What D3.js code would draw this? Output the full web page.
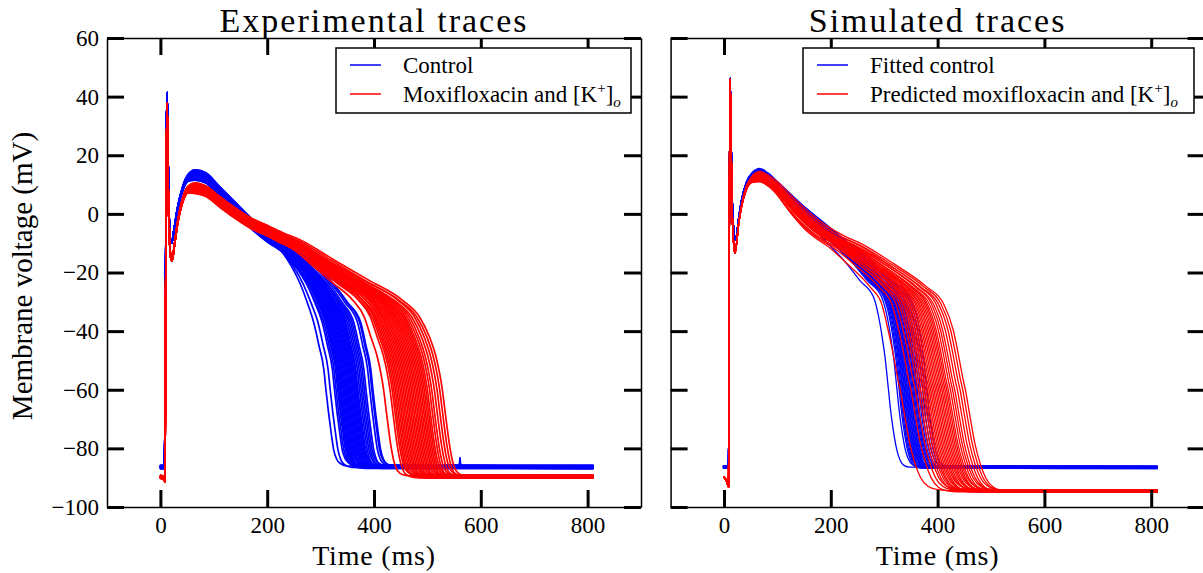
<!DOCTYPE html>
<html>
<head>
<meta charset="utf-8">
<script src="https://cdn.jsdelivr.net/npm/d3@7"></script>
<style>
    body { margin: 0; background: #fff; }
    svg text { font-family: "Liberation Serif", serif; fill: #000; }
</style>
</head>
<body>
<div id="chart_div"></div>
<script>
// Template shapes: [time ms, voltage mV].
// upstroke is kept as is, late plateau is stretched, drop is shifted so the trace crosses -60 mV at its own time.

// Experimental control (shortest trace, crosses -60 mV at 310 ms)
const expControlUpstroke = [[-1, -86.4], [8, -86.4], [9.5, -40], [11, 20], [12.5, 41.5], [14, 22], [16.5, -2], [19, -9.5], [21, -10]];
const expControlPlateau = [[25, -6], [32, 2], [42, 9.5], [52, 13.5], [65, 15], [85, 14], [110, 9.5], [140, 4], [170, -1.5], [200, -6], [224, -11], [245, -17], [262, -23.5], [275, -30], [287, -37]];
const expControlDrop = [[297, -45], [306, -53], [310, -60], [315, -68], [320, -75], [324.5, -80.5], [330, -83.8], [337, -85.4], [350, -86.3], [811, -86.4]];
const expControlRef = 310;
const expControlRest = -86.4;
// [-60 mV crossing, plateau offset, rest offset]
const expControlTraces = [
    [310, -1.5, 0.3], [318, -2, -0.2], [326, -0.5, 0.5], [329, -3, 0], [332, -1, -0.4], [334, -2.5, 0.2],
    [336, 0, 0.6], [338, -3.5, -0.3], [340, -1.5, 0.1], [342, -2, -0.5], [344, -0.5, 0.4], [346, -3, 0],
    [348, -1, 0.3], [350, -2.5, -0.2], [352, 0, 0.5], [354, -1.5, -0.4], [356, -3.5, 0.2], [358, -2, 0],
    [360, -0.5, 0.4], [362, -1, -0.3], [364, -3, 0.1], [366, -2, 0.5], [368, -1.5, -0.2], [370, -0.5, 0.3],
    [373, -2.5, -0.5], [376, -1, 0.2], [379, -3, 0], [382, -2, 0.4], [385, -0.5, -0.3], [392, -1.5, 0.1],
    [396, -1, 0.3], [398, -2, -0.1]
];
const expControlArtifact = [[559, -86.4], [561, -83], [563, -86.4]];

// Experimental moxifloxacin + K (longest trace, crosses -60 mV at 523 ms)
const expDrugUpstroke = [[-1, -89.7], [7, -90.3], [8.5, -91], [9.5, -50], [11, 10], [12.5, 37.8], [14, 15], [17, -8], [20, -15.5], [22, -16]];
const expDrugPlateau = [[26, -11], [33, -2], [42, 5.5], [52, 9.5], [65, 10.5], [85, 9.5], [110, 6], [140, 2], [170, -1.5], [200, -4], [230, -6.5], [262, -9], [324, -15.8], [387, -22.6], [449, -29.4], [480, -35], [499, -42]];
const expDrugDrop = [[510, -48], [518, -54.5], [523, -60], [527, -65.8], [532, -73], [537, -79.5], [543, -85], [549, -87.8], [560, -89.3], [575, -89.7], [811, -89.7]];
const expDrugRef = 523;
const expDrugRest = -89.7;
const expDrugTraces = [
    [418, -2, 0.3], [430, -1, -0.3], [434, -3, 0.5], [437, -0.5, 0], [440, -2, -0.4], [443, -3.5, 0.2],
    [446, -1, 0.6], [449, -2.5, -0.2], [452, 0, 0.3], [455, -1.5, -0.5], [458, -3, 0.1], [461, -2, 0.4],
    [464, -0.5, -0.3], [467, -3.5, 0], [470, -1, 0.5], [473, -2.5, -0.2], [476, -1.5, 0.3], [479, 0, -0.4],
    [482, -3, 0.2], [485, -2, 0.6], [488, -1, -0.1], [491, -2.5, 0.3], [494, -0.5, -0.5], [497, -3, 0.1],
    [500, -1.5, 0.4], [504, -2, -0.2], [508, -1, 0.2], [513, -3, 0], [518, -0.5, 0.4], [523, -2, -0.3], [528, 0, 0.1]
];

// Simulated control (shortest trace, crosses -60 mV at 308 ms)
const simControlUpstroke = [[-2, -86.4], [8.5, -86.4], [9.5, -40], [10.5, 20], [11.5, 46.3], [13, 30], [15.5, 5], [18.5, -6], [20.5, -9], [23, -8]];
const simControlPlateau = [[27, -2], [33, 5], [42, 11], [52, 14], [67, 15.5], [80, 14], [100, 10], [130, 3.5], [160, -2.5], [192, -9], [225, -15.5], [255, -22.6], [280, -28.3], [292, -37.4]];
const simControlDrop = [[297, -43], [301.5, -48.8], [308, -60], [312, -67], [317, -73.8], [323, -80], [329.6, -84], [337, -85.8], [348, -86.4], [812, -86.5]];
const simControlRef = 308;
const simControlRest = -86.5;
const simControlTraces = [
    [308, -1.5, 0], [324, -1, 0.3], [328, -2.5, -0.3], [330, -0.5, 0.2], [332, -3, 0], [334, -1.5, -0.4],
    [335, -2, 0.4], [337, -0.5, 0.1], [338, -3.5, -0.2], [340, -1, 0.3], [341, -2.5, 0], [343, -1.5, -0.3],
    [344, 0, 0.2], [346, -3, 0.4], [347, -2, -0.1], [349, -1, 0.1], [350, -3.5, -0.4], [352, -0.5, 0.3],
    [354, -2, 0], [356, -1.5, -0.2], [358, -3, 0.2], [360, -1, 0.4], [362, -2.5, -0.3], [365, -0.5, 0.1],
    [368, -2, 0], [372, -1, 0.3], [376, -3, -0.2], [380, -1.5, 0.2]
];

// Simulated moxifloxacin + K (longest trace, crosses -60 mV at 452 ms)
const simDrugUpstroke = [[-1, -89.7], [4, -90.8], [8.5, -93], [9.5, -40], [10.5, 20], [11.5, 46], [13, 28], [15.5, 0], [18.5, -11], [20.6, -13.3], [23, -11]];
const simDrugPlateau = [[27, -4], [33, 3], [42, 9.5], [53, 13], [67, 14.5], [80, 13.5], [100, 11], [130, 5.5], [160, 0.5], [192, -4], [225, -7.5], [255, -10], [317, -16.9], [379.6, -24.9], [410.7, -30.5], [429.4, -39.7]];
const simDrugDrop = [[440, -49], [448, -56.7], [452, -60], [460.7, -69.2], [470, -78.5], [479.4, -85], [490, -90], [504, -93.1], [520, -94.2], [540, -94.5], [812, -94.5]];
const simDrugRef = 452;
const simDrugRest = -94.5;
const simDrugTraces = [
    [330, -1.5, 0.2], [350, -2.5, -0.3], [358, -0.5, 0.1], [364, -3, 0.4], [368, -1, -0.2], [372, -2, 0],
    [375, -3.5, 0.3], [378, -0.5, -0.4], [381, -2.5, 0.2], [384, -1.5, 0], [387, -3, -0.3], [390, -1, 0.4],
    [393, -2, 0.1], [396, -0.5, -0.2], [399, -3, 0.3], [402, -1.5, 0], [405, -2.5, -0.4], [408, -1, 0.2],
    [411, -3.5, 0.1], [414, -2, -0.3], [417, -0.5, 0.4], [420, -1.5, 0], [424, -3, -0.2], [428, -1, 0.3],
    [432, -2, 0.1], [437, -0.5, -0.3], [442, -2.5, 0.2], [447, -1, 0], [452, 0, -0.1]
];

// time from which the plateau is stretched
const expStretchFrom = 200;
const simStretchFrom = 67;

const xTicks = [0, 200, 400, 600, 800];
const yTicks = [60, 40, 20, 0, -20, -40, -60, -80, -100];

const width = 1203;
const height = 573;
const top_ = 38, bottom = 507;
const panels = [
    { left: 107, right: 641, title: "Experimental traces", yLabels: true },
    { left: 670.6, right: 1204.6, title: "Simulated traces", yLabels: false },
];

const svg = d3.select("#chart_div")
    .append("svg")
    .attr("width", width)
    .attr("height", height);

// Build one trace from its template and its own numbers
const buildTrace = (grp, [cross, shift, restShift]) => {
    const { upstroke, plateau, drop, ref, rest, from } = grp;
    const d = cross - ref;
    const ta = plateau.reduce((a, b) => (b[1] > a[1] ? b : a))[0];
    const t0 = plateau[0][0];
    const tb = plateau[plateau.length - 1][0];
    const tk = Math.max(ta, from);
    const k = (tb + d - from) / (tb - from);
    const restW = v => Math.max(0, Math.min(1, (rest + 6 - v) / 6));
    const pts = [];
    upstroke.forEach(([t, v]) => pts.push([t, v + restShift * restW(v)]));
    plateau.forEach(([t, v]) => {
        const w = t <= ta ? (t - t0) / (ta - t0) : t <= tk ? 1 : (tb - t) / (tb - tk);
        const tt = t <= from ? t : from + (t - from) * k;
        pts.push([tt, v + shift * Math.max(0, Math.min(1, w))]);
    });
    drop.forEach(([t, v], i) => {
        const tt = i === drop.length - 1 ? t : t + d;
        pts.push([tt, v + restShift * restW(v)]);
    });
    return pts;
};

const groups = [
    [
        { color: "#0000ff", width: 1.7, upstroke: expControlUpstroke, plateau: expControlPlateau, drop: expControlDrop, ref: expControlRef, rest: expControlRest, from: expStretchFrom, traces: expControlTraces },
        { color: "#ff0000", width: 1.7, upstroke: expDrugUpstroke, plateau: expDrugPlateau, drop: expDrugDrop, ref: expDrugRef, rest: expDrugRest, from: expStretchFrom, traces: expDrugTraces },
    ],
    [
        { color: "#0000ff", width: 1.3, upstroke: simControlUpstroke, plateau: simControlPlateau, drop: simControlDrop, ref: simControlRef, rest: simControlRest, from: simStretchFrom, traces: simControlTraces },
        { color: "#ff0000", width: 1.3, upstroke: simDrugUpstroke, plateau: simDrugPlateau, drop: simDrugDrop, ref: simDrugRef, rest: simDrugRest, from: simStretchFrom, traces: simDrugTraces },
    ],
];

const legends = [
    { x0: 336, x1: 631, entries: [["Control", "#0000ff"], ["Moxifloxacin and ", "#ff0000"]] },
    { x0: 803, x1: 1194, entries: [["Fitted control", "#0000ff"], ["Predicted moxifloxacin and ", "#ff0000"]] },
];

const y = d3.scaleLinear().domain([-100, 60]).range([bottom, top_]);

panels.forEach((p, pi) => {
    const x = d3.scaleLinear().domain([-100, 900]).range([p.left, p.right]);
    const g = svg.append("g");

    g.append("clipPath")
        .attr("id", "clip" + pi)
        .append("rect")
        .attr("x", p.left).attr("y", top_)
        .attr("width", p.right - p.left).attr("height", bottom - top_);

    const line = d3.line()
        .x(d => x(d[0]))
        .y(d => y(d[1]))
        .curve(d3.curveMonotoneX);

    // Traces
    const traces = g.append("g").attr("clip-path", `url(#clip${pi})`);
    groups[pi].forEach(grp => {
        traces.append("g")
            .selectAll("path")
            .data(grp.traces)
            .enter()
            .append("path")
            .attr("d", tr => line(buildTrace(grp, tr)))
            .attr("fill", "none")
            .attr("stroke", grp.color)
            .attr("stroke-width", grp.width)
            .attr("stroke-linejoin", "round");
    });
    if (pi === 0) {
        traces.append("path")
            .attr("d", d3.line().x(d => x(d[0])).y(d => y(d[1]))(expControlArtifact))
            .attr("fill", "none")
            .attr("stroke", "#0000ff")
            .attr("stroke-width", 1.5);
    }

    // Axes (ticks pointing inwards on all four sides)
    const styleAxis = a => {
        a.select(".domain").attr("stroke", "#000").attr("stroke-width", 1.5);
        a.selectAll(".tick line").attr("stroke", "#000").attr("stroke-width", 3);
        a.selectAll(".tick text").attr("font-size", 23).attr("font-family", "Liberation Serif, serif");
    };

    g.append("g")
        .attr("transform", `translate(0,${bottom})`)
        .call(d3.axisBottom(x).tickValues(xTicks).tickSize(-17).tickSizeOuter(0).tickPadding(10).tickFormat(d3.format("")))
        .call(styleAxis);
    g.append("g")
        .attr("transform", `translate(0,${top_})`)
        .call(d3.axisTop(x).tickValues(xTicks).tickSize(-17).tickSizeOuter(0).tickFormat(""))
        .call(styleAxis);
    g.append("g")
        .attr("transform", `translate(${p.left},0)`)
        .call(d3.axisLeft(y).tickValues(yTicks).tickSize(-17).tickSizeOuter(0).tickPadding(8).tickFormat(p.yLabels ? d3.format("") : ""))
        .call(styleAxis);
    g.append("g")
        .attr("transform", `translate(${p.right},0)`)
        .call(d3.axisRight(y).tickValues(yTicks).tickSize(-17).tickSizeOuter(0).tickFormat(""))
        .call(styleAxis);

    // Titles
    g.append("text")
        .attr("x", (p.left + p.right) / 2)
        .attr("y", 32)
        .attr("text-anchor", "middle")
        .attr("font-size", 34)
        .attr("letter-spacing", 2)
        .text(p.title);

    g.append("text")
        .attr("x", (p.left + p.right) / 2)
        .attr("y", 565)
        .attr("text-anchor", "middle")
        .attr("font-size", 28)
        .attr("letter-spacing", 0.8)
        .text("Time (ms)");

    // Legend
    const lg = legends[pi];
    const leg = g.append("g");
    leg.append("rect")
        .attr("x", lg.x0).attr("y", 48)
        .attr("width", lg.x1 - lg.x0).attr("height", 65)
        .attr("fill", "#fff")
        .attr("stroke", "#000")
        .attr("stroke-width", 1.5);
    lg.entries.forEach(([label, color], i) => {
        const ly = 65 + i * 29;
        leg.append("line")
            .attr("x1", lg.x0 + 14).attr("x2", lg.x0 + 45)
            .attr("y1", ly).attr("y2", ly)
            .attr("stroke", color)
            .attr("stroke-width", 1.5);
        const t = leg.append("text")
            .attr("x", lg.x0 + 67)
            .attr("y", ly + 8)
            .attr("font-size", 23)
            .text(label);
        if (i === 1) {
            t.append("tspan").text("[K");
            t.append("tspan").attr("font-size", 15).attr("dy", -9).text("+");
            t.append("tspan").attr("dy", 9).text("]");
            t.append("tspan").attr("font-size", 15).attr("font-style", "italic").attr("dy", 5).text("o");
        }
    });
});

svg.append("text")
    .attr("transform", "translate(32,276) rotate(-90)")
    .attr("text-anchor", "middle")
    .attr("font-size", 29)
    .text("Membrane voltage (mV)");
</script>
</body>
</html>
